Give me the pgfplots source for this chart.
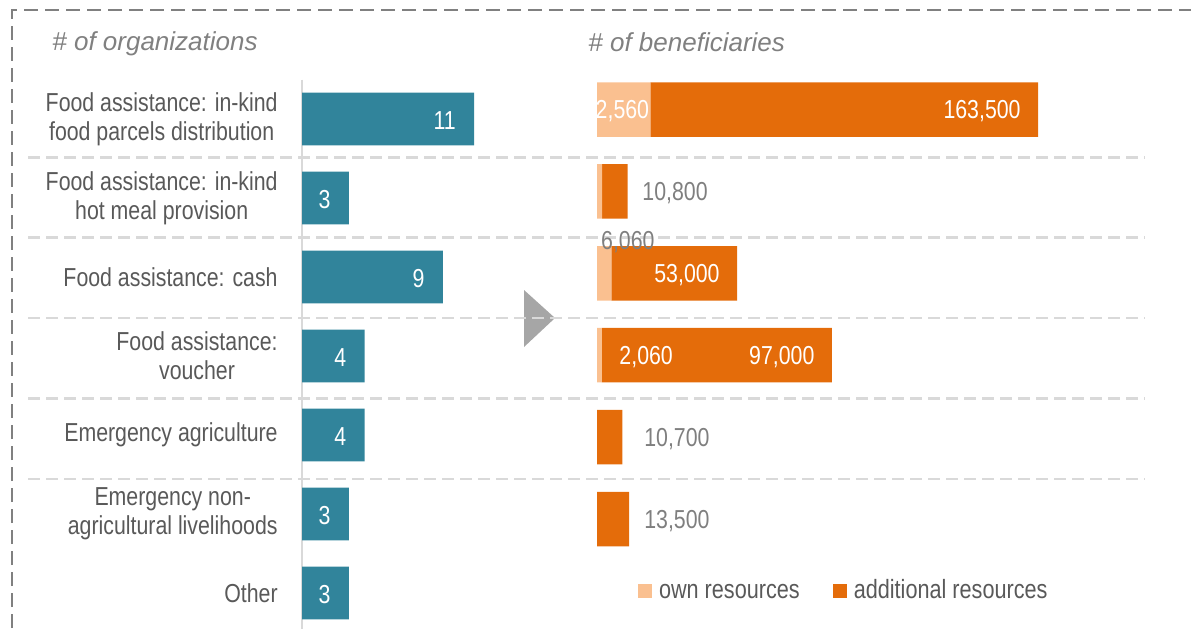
\documentclass[border=0pt]{standalone}
\usepackage{fontspec}
\setmainfont{Liberation Sans}[FakeStretch=0.82]
\newfontfamily\titlefont{Liberation Sans}
\usepackage{pgfplots}
\pgfplotsset{compat=1.18}

\definecolor{barteal}{HTML}{31849B}
\definecolor{ownc}{HTML}{FAC090}
\definecolor{addc}{HTML}{E46C0A}
\definecolor{txtgray}{HTML}{595959}
\definecolor{lblgray}{HTML}{7F7F7F}
\definecolor{titlegray}{HTML}{808080}
\definecolor{sepgray}{HTML}{D9D9D9}
\definecolor{bordgray}{HTML}{808080}
\definecolor{arrowgray}{HTML}{A6A6A6}

\newcommand\lf{\fontsize{13bp}{14.5bp}\selectfont}
\newcommand\tf{\titlefont\itshape\fontsize{13bp}{15bp}\selectfont}
\tikzset{vlab/.style={inner sep=0pt, font=\lf, yshift=-1bp}}

\begin{document}
\begin{tikzpicture}[x=0.5bp,y=-0.5bp]
\useasboundingbox (0,0) rectangle (1191,628);

% frame, titles, arrow, row separators (pixel coordinates)
\draw[bordgray, line width=1bp, dash pattern=on 7bp off 3.5bp] (12,628) -- (12,10) -- (1191,10);
\node[anchor=west, inner sep=0pt, text=titlegray, font=\tf] at (52,44) {\# of organizations};
\node[anchor=west, inner sep=0pt, text=titlegray, font=\tf] at (588,42) {\# of beneficiaries};
\fill[arrowgray] (524,290) -- (555,318) -- (524,347) -- cycle;
\foreach \yy in {157.5,237.5,318,398.5,479}
  \draw[sepgray, line width=1.2bp, dash pattern=on 6bp off 3bp] (28,\yy) -- (1145,\yy);

% left: number of organizations
\begin{axis}[
    at={(151bp,-39.75bp)}, anchor=north west,
    scale only axis,
    width=140.85bp, height=276.5bp,
    xmin=0, xmax=18,
    ymin=-0.5, ymax=6.5, y dir=reverse,
    xbar, bar width=26.3bp, bar shift=0pt,
    axis x line=none, axis y line*=left,
    y axis line style={draw=sepgray, line width=1bp, -},
    ytick={0,1,2,3,4,5,6},
    yticklabels={{Food assistance: in-kind\\food parcels distribution},
                 {Food assistance: in-kind\\hot meal provision},
                 {Food assistance: cash},
                 {Food assistance:\\voucher},
                 {Emergency agriculture},
                 {Emergency non-\\agricultural livelihoods},
                 {Other}},
    major tick length=0pt,
    yticklabel style={align=center, font=\lf, text=txtgray, inner sep=0pt, xshift=-12bp},
    /pgf/number format/assume math mode=true,
    nodes near coords,
    every node near coord/.append style={anchor=east, xshift=-9bp, yshift=-1bp, inner sep=0pt, font=\lf, text=white},
    clip=false,
]
\addplot[fill=barteal, draw=none] coordinates {
    (11,0) (3,1) (9,2) (4,3) (4,4) (3,5) (3,6)
};
\end{axis}

% right: number of beneficiaries
\begin{axis}[
    at={(298.5bp,-34.275bp)}, anchor=north west,
    scale only axis,
    width=237bp, height=286.65bp,
    xmin=0, xmax=200000,
    ymin=-0.5, ymax=6.5, y dir=reverse,
    xbar stacked, bar width=27.25bp,
    axis lines=none, ticks=none,
    clip=false,
    legend columns=2,
    legend style={at={(0.0865,0.0887)}, anchor=west, draw=none, fill=none,
        inner sep=0pt, outer sep=0pt, font=\fontsize{13.2bp}{14.5bp}\selectfont, text=txtgray,
        nodes={inner sep=0pt, text height=9.5bp, text depth=2.5bp},
        /tikz/every odd column/.append style={column sep=3.5bp},
        /tikz/every even column/.append style={column sep=16.5bp}},
    after end axis/.code={
        \node[vlab, anchor=east, text=white, xshift=-0.5bp] at (axis cs:22560,0) {2,560};
        \node[vlab, anchor=east, text=white, xshift=-8.5bp] at (axis cs:186060,0) {163,500};
        \node[vlab, anchor=west, text=lblgray] at (axis cs:19000,1) {10,800};
        \node[vlab, text=lblgray] at (axis cs:13000,1.6) {6,060};
        \node[vlab, anchor=east, text=white, xshift=-8.5bp] at (axis cs:59060,2) {53,000};
        \node[vlab, anchor=west, text=white] at (axis cs:9300,3) {2,060};
        \node[vlab, anchor=east, text=white, xshift=-8.5bp] at (axis cs:99060,3) {97,000};
        \node[vlab, anchor=west, text=lblgray] at (axis cs:19800,4) {10,700};
        \node[vlab, anchor=west, text=lblgray] at (axis cs:19800,5) {13,500};
    },
]
\addplot[fill=ownc, draw=none,
    legend image code/.code={\fill[ownc] (0bp,-3.5bp) rectangle (7bp,3.5bp);}] coordinates {
    (22560,0) (2100,1) (6060,2) (2060,3) (0,4) (0,5)
};
\addlegendentry{own resources}
\addplot[fill=addc, draw=none,
    legend image code/.code={\fill[addc] (0bp,-3.5bp) rectangle (7bp,3.5bp);}] coordinates {
    (163500,0) (10800,1) (53000,2) (97000,3) (10700,4) (13500,5)
};
\addlegendentry{additional resources}
\end{axis}
\end{tikzpicture}
\end{document}
